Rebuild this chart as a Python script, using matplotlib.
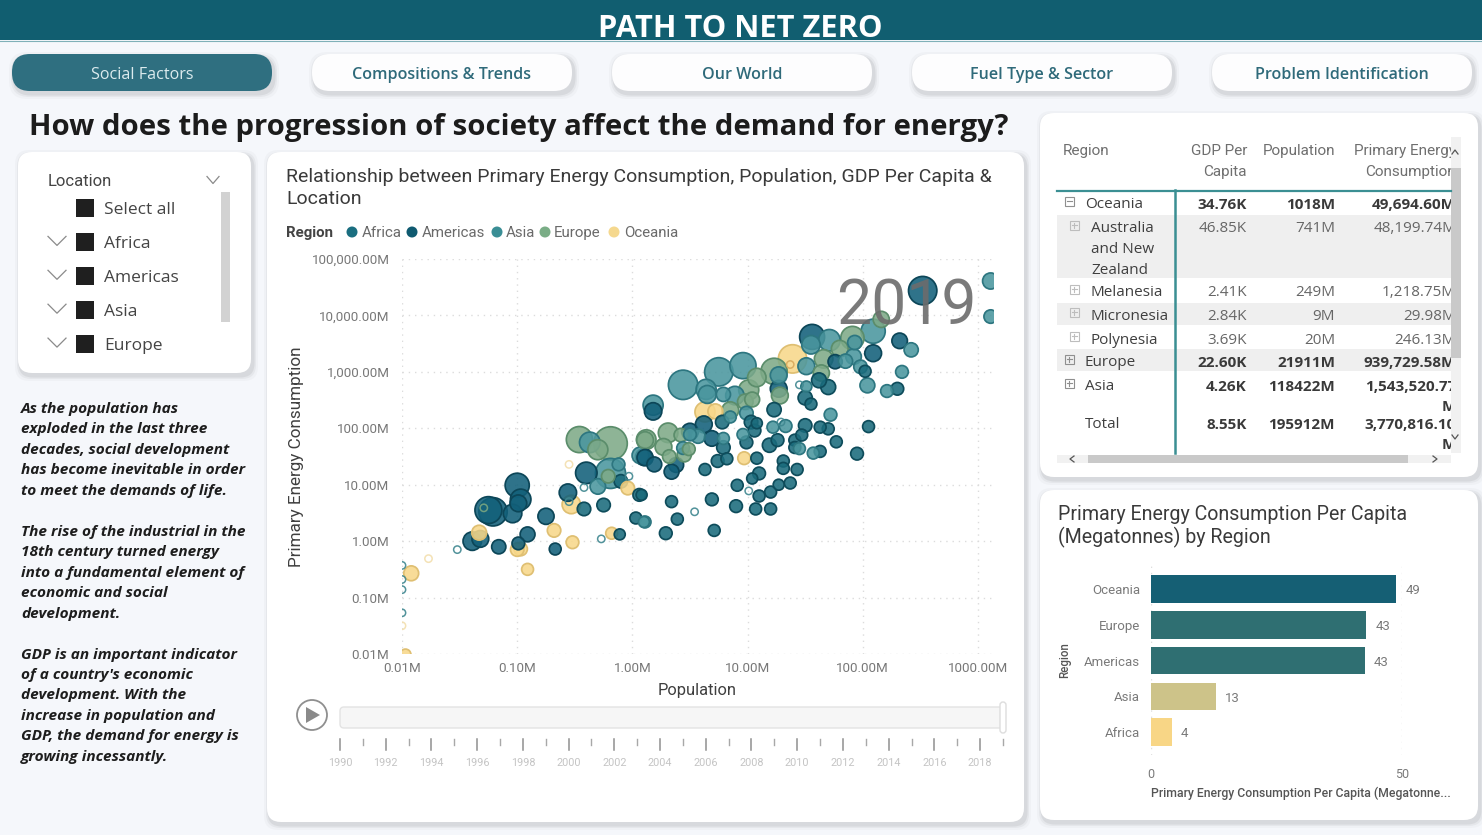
import numpy as np
import matplotlib
matplotlib.use('Agg')
import matplotlib.pyplot as plt
from matplotlib.patches import FancyBboxPatch, Rectangle, Circle, Polygon

DIN = 'Roboto'
SEGOE = 'Open Sans'

# === Scatter data, one set per region (log10 of millions, GDP per capita in K) ===
africa_pop = [-.42, -.25, -.11, .03, .06, -.10, 2.02, 2.30, 1.62, 1.70, 1.50, 1.55, 2.05, 1.95, 1.77, 1.70, 1.63, 1.50,
              1.23, .78, .79, .63, .74, .82, 1.08, .99, 1.03, 1.08, 1.06, 1.19, 1.26, 1.41, 1.47, 1.41, 1.63, 1.31,
              1.31, 1.43, 1.10, 1.04, .91, 1.10, 1.20, 1.27, 1.37, .69, .90, 1.07, 1.20, .34, .39, .71, .29, .08]
africa_energy = [.57, .64, .12, .41, .82, 1.06, 3.01, 2.70, 2.85, 2.73, 2.54, 2.43, 2.03, 1.55, 1.76, 1.99, 2.02, 2.05,
                 2.33, 2.11, 1.66, 1.27, 1.42, 1.46, 1.47, 1.75, 2.11, 2.09, 1.96, 1.70, 1.79, 1.79, 1.88, 1.66, 1.59, 1.42,
                 1.29, 1.27, 1.20, 1.11, .99, .80, .87, 1.00, 1.03, .74, .62, .57, .57, .70, .39, .19, .14, .82]
africa_gdp = [9, 9, 6, 7, 8, 9, 7, 8, 11, 11, 10, 7, 7, 8, 7, 7, 7, 9,
              10, 9, 9, 7, 8, 7, 7, 8, 9, 6, 8, 10, 8, 7, 7, 7, 7, 7,
              7, 7, 8, 6, 7, 7, 7, 6, 7, 8, 8, 7, 7, 7, 7, 7, 8, 6]

americas_pop = [-1.21, -1.25, -1.39, -1.32, -1.16, -1.00, -.97, -.99, -1.04, -.91, -.99, -.75, -.67, -.56, -.40, .10,
                .18, 2.52, 1.56, 2.09, 1.76, 1.27, .62, .50, .69, .11, .19, .38, .34, 2.32]
americas_energy = [.52, .55, 0, .04, -.10, .99, .74, .67, .49, .12, -.04, .44, -.14, .86, 1.21, 1.49,
                   2.30, 4.44, 3.62, 3.33, 3.18, 2.70, 2.07, 1.94, 1.82, 1.48, 1.36, 1.35, 1.23, 3.55]
americas_gdp = [40, 36, 17, 14, 10, 29, 21, 14, 17, 11, 8, 13, 7, 15, 23, 14,
                15, 40, 31, 14, 10, 14, 14, 14, 12, 13, 11, 11, 11, 12]

asia_pop = [-.30, -.19, -.12, -.37, .10, .07, 3.11, 3.11, 2.09, 1.93, 1.55, 1.71, 1.51, 1.85, 1.92, 1.98, 2.42, 2.34,
            2.04, 2.21, 1.51, 1.72, 1.33, 1.27, .96, .75, .44, .89, .79, .65, .64, .99, .85, .50, .57, .79, .44, .96,
            1.22, 1.45, 1.57, .11, .18]
asia_energy = [.97, 1.20, 1.36, 1.75, .34, 1.52, 4.61, 3.98, 3.72, 3.52, 3.48, 3.56, 3.10, 3.19, 3.27, 3.09, 3.39, 3.00,
               2.76, 2.66, 2.74, 2.24, 2.04, 2.94, 3.11, 3.00, 2.77, 2.58, 2.60, 2.60, 2.69, 2.27, 2.20, 1.89, 1.86, 1.82, 1.65, 1.89,
               2.02, 1.64, 1.56, .34, 2.41]
asia_gdp = [12, 45, 8, 21, 6, 14, 13, 9, 29, 10, 17, 23, 14, 10, 12, 9, 10, 8,
            11, 8, 6, 8, 8, 14, 34, 40, 43, 17, 10, 16, 20, 9, 7, 8, 10, 7, 8, 7,
            7, 7, 7, 7, 20]

europe_pop = [-.46, -.19, -.30, -.21, .11, 2.16, 1.91, 1.66, 1.80, 1.64, 1.28, 1.23, 1.08, 1.01, 1.04, .98, .85,
              .31, .12, .27, .42, .49, .32, .45]
europe_energy = [1.80, 1.73, 1.62, 1.15, 1.79, 3.93, 3.60, 3.23, 3.41, 2.98, 2.58, 3.01, 2.90, 2.68, 2.51, 2.47, 2.32,
                 1.92, 1.80, 1.67, 1.88, 1.63, 1.50, 1.53]
europe_gdp = [34, 56, 20, 9, 14, 13, 27, 17, 14, 13, 14, 34, 17, 20, 11, 12, 14,
              19, 19, 14, 9, 8, 9, 10]

oceania_pop = [-1.92, -1.97, -1.33, -.97, -1.00, -.91, -.68, -.52, -.53, -.18, -.04, 1.39, .72, .63, .97]
oceania_energy = [-.57, -2.01, .15, -.14, -.15, -.50, .19, -.02, .65, .14, .94, 3.23, 2.30, 2.29, 1.47]
oceania_gdp = [11, 6, 11, 9, 9, 7, 9, 8, 17, 7, 9, 40, 11, 20, 8]

# small hollow bubbles
ring_teal_pop = [-2, -2, -2, -2, -1.52, -.42, -.55, -.27, -.03, 1.45, 1.29, 1.01, .54]
ring_teal_energy = [-.43, -.68, -.86, -1.27, -.15, .95, .70, .04, 1.15, 2.77, 2.11, .89, .52]
ring_pale_pop = [-2, -1.77, -.55]
ring_pale_energy = [-1.50, -.31, 1.36]
ring_yellow_pop = [1.37]
ring_yellow_energy = [3.13]
ring_green_pop = [-1.29]
ring_green_energy = [.59]

legend_regions = ['Africa', 'Americas', 'Asia', 'Europe', 'Oceania']
x_ticks = [0.01, 0.1, 1, 10, 100, 1000]
y_ticks = [0.01, 0.1, 1, 10, 100, 1000, 10000, 100000]

# === Bar data ===
bar_regions = ['Oceania', 'Europe', 'Americas', 'Asia', 'Africa']
bar_values = [48.9, 42.9, 42.6, 13.0, 4.2]
bar_colors = ['#155f74', '#2f6f72', '#2f6f72', '#cdc389', '#f8d686']

# === Table ===
table_gdp = ['34.76K', '46.85K', '2.41K', '2.84K', '3.69K', '22.60K', '4.26K', '8.55K']
table_pop = ['1018M', '741M', '249M', '9M', '20M', '21911M', '118422M', '195912M']
table_energy = ['49,694.60M', '48,199.74M', '1,218.75M', '29.98M', '246.13M', '939,729.58M', '1,543,520.77', '3,770,816.10']
table_names = ['Oceania', 'Australia\nand New\nZealand', 'Melanesia', 'Micronesia', 'Polynesia', 'Europe', 'Asia', 'Total']
table_y = [203, 227, 291, 314, 338, 361, 385, 423]
table_level = [0, 1, 1, 1, 1, 0, 0, 0]

nav_labels = ['Social Factors', 'Compositions & Trends', 'Our World', 'Fuel Type & Sector', 'Problem Identification']
slicer_items = ['Select all', 'Africa', 'Americas', 'Asia', 'Europe']
years = list(range(1990, 2020))

story = [
    (408, 'As the population has'), (428, 'exploded in the last three'), (449, 'decades, social development'),
    (469, 'has become inevitable in order'), (490, 'to meet the demands of life.'),
    (531, 'The rise of the industrial in the'), (551, '18th century turned energy'), (572, 'into a fundamental element of'),
    (592, 'economic and social'), (613, 'development.'),
    (654, 'GDP is an important indicator'), (674, "of a country's economic"), (694, 'development. With the'),
    (715, 'increase in population and'), (735, 'GDP, the demand for energy is'), (756, 'growing incessantly.'),
]

W, H = 1482, 835
fig = plt.figure(figsize=(W / 100, H / 100), dpi=100, facecolor='#f5f7fb')

# canvas in pixel coordinates for the report furniture
bg = fig.add_axes([0, 0, 1, 1])
bg.set_xlim(0, W)
bg.set_ylim(H, 0)
bg.axis('off')


def px_axes(left, top, right, bottom):
    return fig.add_axes([left / W, 1 - bottom / H, (right - left) / W, (bottom - top) / H])


def card(x0, y0, x1, y1, r=14, color='white', shadow=True):
    if shadow:
        for grow, a in [(5, .025), (3, .04), (1.5, .06)]:
            bg.add_patch(FancyBboxPatch((x0 - grow + 2, y0 - grow + 3), x1 - x0 + 2 * grow, y1 - y0 + 2 * grow,
                                        boxstyle=f'round,pad=0,rounding_size={r}', fc='#000000', ec='none', alpha=a))
    bg.add_patch(FancyBboxPatch((x0, y0), x1 - x0, y1 - y0, boxstyle=f'round,pad=0,rounding_size={r}', fc=color, ec='none'))


def chevron(cx, cy, w, h, color='#8a8a8a', up=False):
    s = -1 if up else 1
    bg.plot([cx - w, cx, cx + w], [cy - s * h, cy + s * h, cy - s * h], color=color, lw=.9)


def label(x, y, s, size=10, color='#444444', ha='left', va='center', font=DIN, **kw):
    # text sits about 2px lower than its centre in the report
    return bg.text(x, y + 2, s, fontsize=size, color=color, ha=ha, va=va, family=font, **kw)


# === Header ===
bg.add_patch(Rectangle((0, 0), W, 40, fc='#115e70', ec='none'))
bg.plot([0, W], [40.5, 40.5], color='#7fb0b8', lw=.8)
label(740, 27, 'PATH TO NET ZERO', size=22.2, color='white', ha='center', font=SEGOE, fontweight='bold')

for i, name in enumerate(nav_labels):
    x0 = 12 + 300 * i
    active = i == 0
    card(x0, 54, x0 + 260, 91, r=18, color='#2f6f80' if active else '#fdfdfe')
    label(x0 + 130, 73, name, size=11.6, color='#dcebee' if active else '#2f6a7a', ha='center', font=SEGOE,
          fontweight='normal' if active else 'semibold')

label(29, 125, 'How does the progression of society affect the demand for energy?', size=21.2, color='#1c1c1c',
      font=SEGOE, fontweight='bold')

# === Slicer ===
card(18, 152, 251, 373)
label(48, 179, 'Location', size=12, color='#444444')
chevron(213, 180, 6, 3.5)
bg.add_patch(Rectangle((221, 192), 9, 130, fc='#d2d2d2', ec='none'))
for i, name in enumerate(slicer_items):
    yy = 208 + i * 33.9
    bg.add_patch(Rectangle((76, yy - 9), 18, 18, fc='#1f1f1f', ec='none'))
    label(104, yy, name, size=12.5, color='#444444', font=SEGOE)
    if i > 0:
        chevron(57, yy - 1, 9, 4.5)

for yy, line in story:
    label(21, yy - 1, line, size=11.1, color='#1d1d1d', font=SEGOE, fontweight='bold', fontstyle='italic')

# === Scatter card ===
card(267, 152, 1024, 822)
label(286, 175, 'Relationship between Primary Energy Consumption, Population, GDP Per Capita &', size=14, color='#3a3a3a')
label(286, 197, 'Location', size=14, color='#3a3a3a')
label(286, 231, 'Region', size=10.8, color='#444444', fontweight='bold')

region_face = {'Africa': '#1a6b7c', 'Americas': '#12607a', 'Asia': '#4a969e', 'Europe': '#7eaa88', 'Oceania': '#f8d88a'}
region_edge = {'Africa': '#0e4c5b', 'Americas': '#0c4658', 'Asia': '#2d7680', 'Europe': '#5b8d6b', 'Oceania': '#dfbf72'}
legend_face = ['#1a6e80', '#0f5a70', '#3a8e95', '#7aad86', '#f5d88e']
for name, fc, dot_x, text_x in zip(legend_regions, legend_face, [352, 412, 497, 545, 614], [362, 422, 506, 554, 624]):
    bg.add_patch(Circle((dot_x, 232), 5.5, fc=fc, ec='none'))
    label(text_x, 231, name, size=10.8, color='#6a6a6a')

ax = px_axes(402, 259, 994, 654)
ax.patch.set_alpha(0)
ax.set_xscale('log')
ax.set_yscale('log')
ax.set_xlim(10 ** -2, 10 ** 3.139)
ax.set_ylim(10 ** -2, 10 ** 5)

pop = np.array(africa_pop + americas_pop + asia_pop + europe_pop + oceania_pop, dtype=float)
energy = np.array(africa_energy + americas_energy + asia_energy + europe_energy + oceania_energy, dtype=float)
gdp = np.array(africa_gdp + americas_gdp + asia_gdp + europe_gdp + oceania_gdp, dtype=float)
names = (['Africa'] * len(africa_pop) + ['Americas'] * len(americas_pop) + ['Asia'] * len(asia_pop)
         + ['Europe'] * len(europe_pop) + ['Oceania'] * len(oceania_pop))
order = np.argsort(-gdp)
ax.scatter(10 ** pop[order], 10 ** energy[order], s=gdp[order] * 10.4,
           c=[matplotlib.colors.to_rgba(region_face[names[i]], .88) for i in order],
           edgecolors=[region_edge[names[i]] for i in order], linewidths=1.25, zorder=3)

for xs, ys, col, a in [(ring_teal_pop, ring_teal_energy, '#3f8790', .9), (ring_pale_pop, ring_pale_energy, '#f3dfae', .9),
                       (ring_yellow_pop, ring_yellow_energy, '#dcae62', 1), (ring_green_pop, ring_green_energy, '#6f9f80', 1)]:
    ax.scatter(10 ** np.array(xs, dtype=float), 10 ** np.array(ys, dtype=float), s=28, facecolors='none',
               edgecolors=col, linewidths=1.1, alpha=a, zorder=4)

ax.set_xticks(x_ticks)
ax.set_yticks(y_ticks)
ax.minorticks_off()
ax.set_xticklabels([f'{v:.2f}M' for v in x_ticks], family=DIN, fontsize=9.6, color='#787878')
ax.set_yticklabels([f'{v:,.2f}M' for v in y_ticks], family=DIN, fontsize=9.6, color='#787878')
ax.tick_params(length=0)
ax.tick_params(axis='x', pad=6)
ax.tick_params(axis='y', pad=9)
ax.grid(True, color='#dcdcdc', lw=1, linestyle=(0, (1, 3.5)), zorder=0)
for sp in ax.spines.values():
    sp.set_visible(False)
ax.set_axisbelow(True)
ax.text(.971, .878, '2019', transform=ax.transAxes, ha='right', va='center', fontsize=45, color='#6c6c6c', alpha=.9,
        family=DIN, fontweight='normal', zorder=6, clip_on=False)

label(296, 455, 'Primary Energy Consumption', size=12.3, color='#3f3f3f', rotation=90, ha='center')
label(697, 688, 'Population', size=11.9, color='#3f3f3f', ha='center')

# === Play axis ===
bg.add_patch(Circle((312, 715), 15, fc='white', ec='#8f8f8f', lw=1.3))
bg.add_patch(Polygon([(306, 707), (306, 723), (320, 715)], fc='#8a8a8a', ec='none'))
bg.add_patch(FancyBboxPatch((340, 707), 663, 21, boxstyle='round,pad=0,rounding_size=4', fc='#f6f6f6', ec='#e3e3e3', lw=1))
bg.add_patch(FancyBboxPatch((1000, 702), 6, 31, boxstyle='round,pad=0,rounding_size=3', fc='white', ec='#dddddd', lw=1))
for yr in years:
    xx = 340 + (yr - 1990) * 22.86
    if yr % 2 == 0:
        bg.plot([xx, xx], [739, 750], color='#8f8f8f', lw=1.1)
        label(xx, 761, str(yr), size=7.8, color='#c4c4c4', ha='center')
    else:
        bg.plot([xx, xx], [739, 745], color='#a8a8a8', lw=1)

# === Table ===
card(1040, 113, 1478, 477)
label(1063, 149, 'Region', size=11, color='#6f6f6f')
label(1247, 149, 'GDP Per', size=11, color='#6f6f6f', ha='right')
label(1247, 170, 'Capita', size=11, color='#6f6f6f', ha='right')
label(1335, 149, 'Population', size=11, color='#6f6f6f', ha='right')
clip = Rectangle((1040, 130), 411, 330, transform=bg.transData)


def clipped(x, y, s, **kw):
    t = label(x, y, s, **kw)
    t.set_clip_path(clip)
    t.set_clip_on(True)
    return t


clipped(1456, 149, 'Primary Energy', size=11, color='#6f6f6f', ha='right')
clipped(1456, 170, 'Consumption', size=11, color='#6f6f6f', ha='right')

for y0, y1 in [(215, 278), (303, 325), (349, 371)]:
    bg.add_patch(Rectangle((1057, y0), 394, y1 - y0, fc='#efefef', ec='none'))
bg.plot([1057, 1451], [190.5, 190.5], color='#3b8f93', lw=1.6)
bg.plot([1175, 1175], [190, 453], color='#3b8f93', lw=1.8)

for name, g, p, e, yy, lv in zip(table_names, table_gdp, table_pop, table_energy, table_y, table_level):
    weight = 'bold' if lv == 0 else 'normal'
    name_x = 1091 if lv else 1085
    for k, part in enumerate(name.split('\n')):
        label(name_x, yy + k * 20.5, part, size=11, color='#3f3f3f', font=SEGOE)
    if name != 'Total':
        bx = 1074 if lv else 1069
        col = '#bdbdbd' if lv else '#8f8f8f'
        bg.add_patch(Rectangle((bx - 4.5, yy - 6.5), 9, 9, fc='none', ec=col, lw=.8))
        bg.plot([bx - 2.5, bx + 2.5], [yy - 2, yy - 2], color=col, lw=.8)
        if name != 'Oceania':
            bg.plot([bx, bx], [yy - 4.5, yy + .5], color=col, lw=.8)
    num_col = '#3a3a3a' if lv == 0 else '#666666'
    label(1247, yy, g, size=11, color=num_col, ha='right', font=SEGOE, fontweight=weight)
    label(1335, yy, p, size=11, color=num_col, ha='right', font=SEGOE, fontweight=weight)
    clipped(1456, yy, e, size=11, color=num_col, ha='right', font=SEGOE, fontweight=weight)
    if not e.endswith('M'):
        clipped(1456, yy + 20, 'M', size=11, color=num_col, ha='right', font=SEGOE, fontweight=weight)

# scrollbars
bg.add_patch(Rectangle((1451, 137), 10, 316, fc='#f1f1f1', ec='none'))
bg.add_patch(Rectangle((1451, 168), 10, 190, fc='#c9c9c9', ec='none'))
bg.add_patch(Rectangle((1057, 455), 394, 8, fc='#f1f1f1', ec='none'))
bg.add_patch(Rectangle((1088, 455), 320, 8, fc='#c9c9c9', ec='none'))
chevron(1455, 152, 3, 2, color='#555555', up=True)
chevron(1455, 437, 3, 2, color='#555555')
bg.plot([1074, 1070, 1074], [456, 459, 462], color='#555555', lw=.9)
bg.plot([1433, 1437, 1433], [456, 459, 462], color='#555555', lw=.9)

# === Bar chart ===
card(1040, 490, 1478, 820)
label(1058, 512, 'Primary Energy Consumption Per Capita', size=14.1, color='#3a3a3a')
label(1058, 535, '(Megatonnes) by Region', size=14.1, color='#3a3a3a')

bar_ax = px_axes(1151, 565, 1402, 755)
bar_ax.patch.set_alpha(0)
ypos = np.arange(len(bar_regions))
bar_ax.barh(ypos, bar_values, height=.77, color=bar_colors, zorder=3)
bar_ax.set_xlim(0, 50)
bar_ax.set_ylim(4.64, -.67)
bar_ax.set_yticks(ypos)
bar_ax.set_yticklabels(bar_regions, family=DIN, fontsize=9.5, color='#7a7a7a')
bar_ax.set_xticks([0, 50])
bar_ax.set_xticklabels(['0', '50'], family=DIN, fontsize=9, color='#7a7a7a')
bar_ax.tick_params(length=0)
bar_ax.tick_params(axis='y', pad=8)
bar_ax.tick_params(axis='x', pad=9)
bar_ax.grid(True, axis='x', color='#dedede', lw=1, linestyle=(0, (1, 3.5)), zorder=0)
bar_ax.set_axisbelow(True)
for sp in bar_ax.spines.values():
    sp.set_visible(False)
for i, v in enumerate(bar_values):
    bar_ax.text(v + 1.8, i + .05, f'{v:.0f}', family=DIN, fontsize=9.5, color='#7a7a7a', va='center')

label(1065, 658, 'Region', size=8.3, color='#555555', rotation=90, ha='center', fontweight='medium')
label(1151, 791, 'Primary Energy Consumption Per Capita (Megatonne...', size=8.8, color='#555555', fontweight='medium')

fig.savefig('out.png', dpi=100, facecolor=fig.get_facecolor())
